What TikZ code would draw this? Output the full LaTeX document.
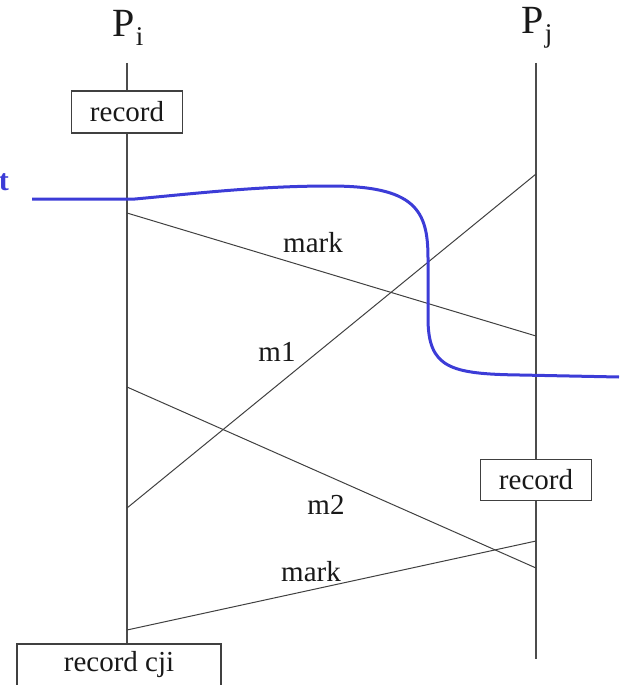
\documentclass[tikz,border=0pt]{standalone}
\usepackage{fontspec}
\setmainfont{Liberation Serif}
\begin{document}
\begin{tikzpicture}[x=1pt,y=-1pt,
  lbl/.style={font=\fontsize{29}{32}\selectfont, text=black!90, inner sep=0pt},
  proc/.style={font=\fontsize{40}{44}\selectfont, text=black!90, inner sep=0pt},
  box/.style={draw=black!75, line width=1.3pt, fill=white, font=\fontsize{29}{32}\selectfont, text=black!90, inner sep=0pt, minimum height=42pt},
  life/.style={draw=black!70, line width=1.6pt},
  msg/.style={draw=black!75, line width=1pt},
  cut/.style={line width=3pt, color={rgb,255:red,60;green,60;blue,215}}]
\useasboundingbox (0,0) rectangle (619,685);
% process labels
\node[proc] (Pi) at (128,28) {P\kern1pt\raisebox{-9pt}{\fontsize{27}{29}\selectfont i}};
\node[proc] (Pj) at (537,28) {P\kern1pt\raisebox{-9pt}{\fontsize{27}{29}\selectfont j}};
% lifeline end points
\coordinate (PiTop) at (127,63);
\coordinate (PjTop) at (536,63);
\coordinate (PjBot) at (536,659);
% boxes
\node[box, minimum width=111pt] (recI) at (127,112) {record};
\node[box, minimum width=111pt, minimum height=41pt] (recJ) at (536,480) {record};
\node[box, minimum width=204pt] (recCji) at (119,665) {record cji};
% lifelines
\draw[life] (PiTop) -- (recI.north);
\draw[life] (recI.south) -- (recCji.north -| recI.south);
\draw[life] (PjTop) -- (recJ.north);
\draw[life] (recJ.south) -- (PjBot);
% message endpoints
\coordinate (a1) at (127,213); \coordinate (b1) at (536,336);
\coordinate (a2) at (127,508); \coordinate (b2) at (536,174);
\coordinate (a3) at (127,387); \coordinate (b3) at (536,568);
\coordinate (a4) at (127,630); \coordinate (b4) at (536,541);
\draw[msg] (a1) -- (b1);
\draw[msg] (a2) -- (b2);
\draw[msg] (a3) -- (b3);
\draw[msg] (a4) -- (b4);
% message labels
\node[lbl] (L1) at (313,243) {mark};
\node[lbl] (L2) at (277,352) {m1};
\node[lbl] (L3) at (326,505) {m2};
\node[lbl] (L4) at (311,572) {mark};
% cut line
\coordinate (c0) at (32,199);
\coordinate (c1) at (619,377);
\draw[cut] (c0) -- (135,199) .. controls (200,193) and (260,186) .. (330,186)
  .. controls (415,186) and (428,210) .. (428,258) -- (428,318)
  .. controls (428,368) and (450,374) .. (520,375) -- (c1);
\node[font=\fontsize{30}{32}\selectfont\bfseries, text={rgb,255:red,60;green,60;blue,215}, inner sep=0pt, anchor=east] (tl) at (9,182) {t};
\end{tikzpicture}
\end{document}
